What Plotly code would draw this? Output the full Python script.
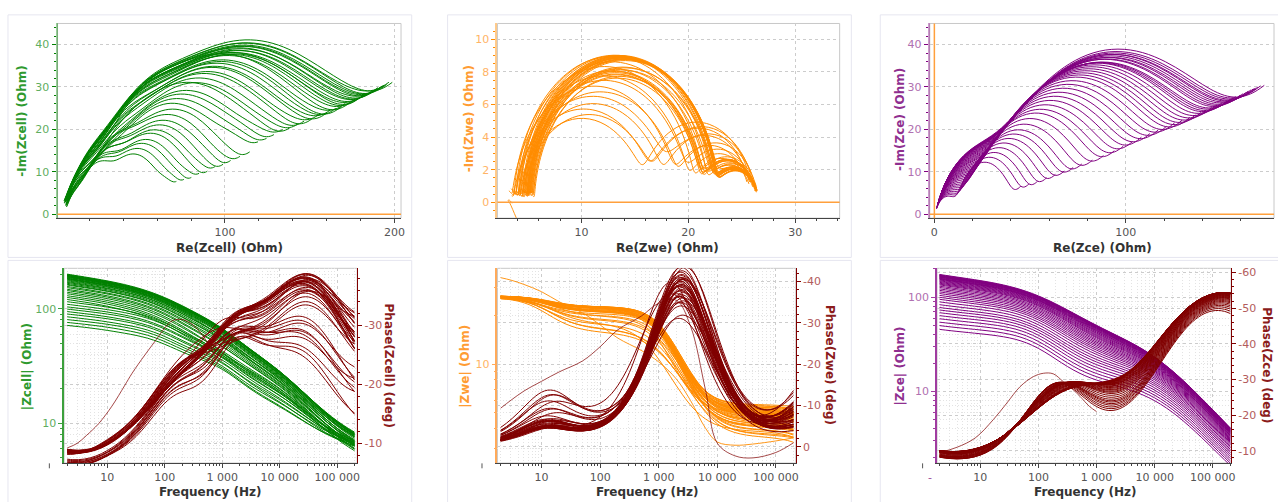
import numpy as np
import plotly.graph_objects as go

W, H = 1278, 502
FONT = "DejaVu Sans"

# Sweep frequencies (10 points per decade, 2 Hz .. 200 kHz)
freq_hz = [2.0, 2.512, 3.162, 3.981, 5.012, 6.310, 7.943,
           10.0, 12.59, 15.85, 19.95, 25.12, 31.62, 39.81, 50.12, 63.10, 79.43,
           100.0, 125.9, 158.5, 199.5, 251.2, 316.2, 398.1, 501.2, 631.0, 794.3,
           1000.0, 1259.0, 1585.0, 1995.0, 2512.0, 3162.0, 3981.0, 5012.0, 6310.0, 7943.0,
           10000.0, 12589.0, 15849.0, 19953.0, 25119.0, 31623.0, 39811.0, 50119.0, 63096.0, 79433.0,
           100000.0, 125893.0, 158489.0, 199526.0]

# Working electrode fit per sweep: series R (incl. HF arc), HF arc, main arc, low-frequency arc
we_rs = [5.5, 5.2, 5.6, 5.0, 5.4, 5.1, 5.5, 4.9, 5.3, 5.0,
         4.0, 4.4, 3.6, 4.2, 3.8, 4.3, 3.5, 4.1, 3.9, 4.5, 3.7, 4.2,
         4.6, 3.9, 5.0, 4.3, 4.8, 4.1, 5.2, 4.5, 4.9, 5.3, 4.7, 5.1, 4.8, 5.4, 4.9, 5.2, 4.7, 5.0]
we_rhf = [1.0, 1.6, 0.7, 1.3, 1.9, 0.9, 1.5, 1.1, 1.8, 0.8, 1.0, 1.6, 0.7, 1.3, 1.9, 0.9, 1.5, 1.1, 1.8, 0.8,
          1.0, 1.6, 0.7, 1.3, 1.9, 0.9, 1.5, 1.1, 1.8, 0.8, 1.0, 1.6, 0.7, 1.3, 1.9, 0.9, 1.5, 1.1, 1.8, 0.8]
we_fhf = 4.0e5
we_rm = [15.6, 16.0, 15.8, 16.3, 16.6, 16.1, 16.9, 16.4, 17.0, 16.7,
         11.8, 12.3, 12.9, 13.5, 14.1, 14.7, 15.2, 15.7, 16.1, 16.5, 16.8, 17.1,
         17.9, 17.8, 17.6, 17.9, 17.7, 17.9, 17.5, 17.8, 17.6, 17.4, 17.8, 17.5, 17.7, 17.3, 17.6, 17.4, 17.8, 17.6]
we_fm = [1200, 1150, 1100, 1250, 1050, 1200, 1100, 1150, 1000, 1100, 1200, 1050, 1150, 1100, 700, 1200, 1100, 1050, 1150, 1100,
         1200, 1050, 1100, 1150, 750, 1100, 1200, 1050, 1150, 1100, 1100, 1200, 1050, 1150, 1100, 1200, 1100, 1050, 1150, 1100]
we_nm = [0.98, 0.98, 0.98, 0.98, 0.98, 0.98, 0.98, 0.98, 0.98, 0.98,
         0.90, 0.90, 0.91, 0.92, 0.93, 0.94, 0.95, 0.96, 0.97, 0.98, 0.99, 1.0,
         1.0, 1.0, 1.0, 1.0, 1.0, 1.0, 1.0, 1.0, 1.0, 1.0, 1.0, 1.0, 1.0, 1.0, 1.0, 1.0, 1.0, 1.0]
we_rl = [5.4, 5.3, 5.1, 5.2, 4.6, 5.3, 4.2, 5.2, 4.3, 4.8,
         10.3, 9.6, 9.4, 8.7, 8.1, 7.5, 7.1, 6.5, 6.1, 5.6, 5.5, 5.1,
         4.0, 4.6, 3.9, 4.3, 4.0, 4.4, 3.9, 4.2, 4.1, 3.9, 4.0, 3.9, 4.1, 3.8, 4.0, 3.9, 4.1, 4.0]
we_fl = [10, 11, 12, 10, 13, 11, 12, 14, 10, 12, 10, 11, 12, 10, 13, 11, 12, 14, 10, 12,
         10, 11, 12, 10, 13, 11, 12, 14, 10, 12, 10, 11, 12, 10, 13, 11, 12, 14, 10, 12]
we_nl = 0.95

# Counter electrode fit per sweep: series R, HF arc, main arc, low-frequency CPE tail
ce_r0 = 0.35
ce_r1 = [11.0, 11.8, 12.6, 13.4, 14.2, 15.0, 15.8, 16.5, 17.2, 17.9, 18.5, 19.1, 19.7, 20.3, 20.9, 21.4, 21.9, 22.4, 22.9, 23.4,
         23.8, 24.2, 24.6, 25.0, 25.3, 25.6, 25.9, 26.2, 26.5, 26.7, 26.9, 27.1, 27.3, 27.5, 27.6, 27.7, 27.8, 27.9, 28.0, 28.0]
ce_f1 = [12000, 11900, 11800, 11700, 11600, 11500, 11400, 11300, 11200, 11100, 11000, 10900, 10800, 10700, 10600, 10500, 10400, 10300, 10200, 10100,
         10000, 9900, 9800, 9700, 9600, 9500, 9400, 9300, 9200, 9100, 9000, 9000, 9000, 9000, 9000, 9000, 9000, 9000, 9000, 9000]
ce_n1 = 0.74
ce_r2 = [26, 29, 32, 35, 38, 41, 44, 47, 51, 55, 59, 62, 65, 68, 71, 74, 77, 80, 83, 86,
         88, 90, 92, 94, 96, 98, 100, 101, 102, 103, 105, 106, 107, 108, 109, 110, 111, 112, 113, 115]
ce_f2 = [100, 100, 100, 101, 101, 102, 102, 103, 103, 104, 104, 105, 105, 106, 106, 107, 107, 108, 108, 109,
         109, 110, 110, 111, 111, 112, 112, 113, 113, 114, 114, 115, 115, 115, 115, 115, 115, 115, 115, 115]
ce_n2 = [0.88, 0.87, 0.86, 0.85, 0.84, 0.83, 0.82, 0.81, 0.80, 0.79, 0.78, 0.77, 0.765, 0.76, 0.755, 0.75, 0.745, 0.74, 0.735, 0.73,
         0.725, 0.72, 0.715, 0.71, 0.705, 0.70, 0.695, 0.69, 0.685, 0.68, 0.68, 0.675, 0.675, 0.67, 0.67, 0.67, 0.665, 0.665, 0.665, 0.665]
ce_q = [13, 14, 15, 16.5, 18, 19.5, 21, 22.5, 24, 26, 28, 30, 32, 34, 35.5, 37, 38.5, 40, 41, 42,
        43, 44, 45, 46, 47, 48, 48.5, 49, 49.5, 50, 50.5, 51, 51.5, 52, 52.5, 53, 53, 53.5, 54, 54]
ce_nq = 0.4

# First sweep (recorded on its own)
out_we_f = [2, 3, 5, 10, 20, 50, 100, 200, 500, 1000, 2000, 3500, 6300, 10000, 20000, 40000, 100000, 200000]
out_we_re = [34.0, 32.6, 30.4, 27.1, 23.2, 19.5, 16.0, 12.8, 10.4, 8.5, 6.6, 5.2, 3.9, 3.3, 3.15, 3.2, 3.35, 3.5]
out_we_im = [5.6, 6.5, 7.3, 7.7, 7.6, 7.4, 7.2, 6.9, 6.4, 5.9, 4.7, 2.9, 0.95, 0.05, -0.12, -0.15, -0.08, 0.06]
out_cell_f = [2, 3, 4.3, 7, 12, 20, 27, 45, 71, 100, 135, 200, 280, 400, 520, 780, 1000]
out_cell_phase = [-9.2, -10.0, -11.3, -13.3, -16.3, -19.8, -21.9, -25.0, -27.6, -29.6, -30.8, -31.0, -30.4, -29.0, -27.5, -24.7, -24.0]
out_ce_f = [2, 4, 8.2, 16.9, 28.7, 48.5, 81.8, 122, 180, 268, 397, 518, 750, 1000]
out_ce_phase = [-9.5, -11.0, -13.6, -18.8, -23.4, -28.0, -30.8, -31.75, -31.6, -29.4, -27.1, -25.3, -22.5, -21.0]

GREEN, ORANGE, PURPLE, MAROON = "rgb(0,128,0)", "rgb(255,140,0)", "rgb(128,0,128)", "rgb(128,0,0)"

f = np.array(freq_hz)


def zarc(r, fc, n):
    return r / (1.0 + (1j * f / fc) ** n)


z_we, z_ce = [], []
for k in range(len(we_rm)):
    z_we.append((we_rs[k] - we_rhf[k]) + zarc(we_rhf[k], we_fhf, 1.0) + zarc(we_rm[k], we_fm[k], we_nm[k])
                + zarc(we_rl[k], we_fl[k], we_nl))
    z_ce.append(ce_r0 + zarc(ce_r1[k], ce_f1[k], ce_n1) + zarc(ce_r2[k], ce_f2[k], ce_n2[k])
                + ce_q[k] * (1j * f) ** -ce_nq)
z_cell = [a + b for a, b in zip(z_we, z_ce)]


def family(series, fx, fy):
    xs, ys = [], []
    for z in series:
        xs += list(fx(z)) + [None]
        ys += list(fy(z)) + [None]
    return xs, ys


def line(color, width=1.0):
    return dict(color=color, width=width, shape="spline", smoothing=1.0)


fig = go.Figure()

# Nyquist panels
for series, color, xa, ya in [(z_cell, GREEN, "x", "y"), (z_we, ORANGE, "x2", "y2"), (z_ce, PURPLE, "x3", "y3")]:
    xs, ys = family(series, lambda z: z.real, lambda z: -z.imag)
    fig.add_trace(go.Scatter(x=xs, y=ys, mode="lines", line=line(color), xaxis=xa, yaxis=ya,
                             hoverinfo="skip", showlegend=False))
fig.add_trace(go.Scatter(x=out_we_re, y=[-v for v in out_we_im], mode="lines", line=line(ORANGE, 0.9),
                         xaxis="x2", yaxis="y2", hoverinfo="skip", showlegend=False))

# Bode panels: magnitude (left axis) then phase (right axis)
bode = [(z_cell, GREEN, "x4", "y4", "y5"), (z_we, ORANGE, "x5", "y6", "y7"), (z_ce, PURPLE, "x6", "y8", "y9")]
for series, color, xa, ym, yp in bode:
    xs, ys = family(series, lambda z: f, np.abs)
    fig.add_trace(go.Scatter(x=xs, y=ys, mode="lines", line=line(color), xaxis=xa, yaxis=ym,
                             hoverinfo="skip", showlegend=False))
out_we = np.array(out_we_re) - 1j * np.array(out_we_im)
fig.add_trace(go.Scatter(x=out_we_f, y=np.abs(out_we), mode="lines", line=line(ORANGE, 0.9),
                         xaxis="x5", yaxis="y6", hoverinfo="skip", showlegend=False))
for series, color, xa, ym, yp in bode:
    xs, ys = family(series, lambda z: f, lambda z: np.degrees(np.angle(z)))
    fig.add_trace(go.Scatter(x=xs, y=ys, mode="lines", line=line(MAROON), xaxis=xa, yaxis=yp,
                             hoverinfo="skip", showlegend=False))
THIN = "rgba(128,0,0,0.8)"
fig.add_trace(go.Scatter(x=out_cell_f, y=out_cell_phase, mode="lines", line=line(THIN, 0.9),
                         xaxis="x4", yaxis="y5", hoverinfo="skip", showlegend=False))
fig.add_trace(go.Scatter(x=out_we_f, y=np.degrees(np.angle(out_we)), mode="lines", line=line(THIN, 0.9),
                         xaxis="x5", yaxis="y7", hoverinfo="skip", showlegend=False))
fig.add_trace(go.Scatter(x=out_ce_f, y=out_ce_phase, mode="lines", line=line(THIN, 0.9),
                         xaxis="x6", yaxis="y9", hoverinfo="skip", showlegend=False))


def dx(a, b):
    return [a / W, b / W]


def dy(top, bottom):
    return [1 - bottom / H, 1 - top / H]


GRID = "#cccccc"
GDASH = "3px,3px"
MINOR_GRID = "#e3e3e3"
XTICK = dict(size=11, color="#555555", family=FONT)


def lin_x(dom, rng, dtick, minor, anchor):
    return dict(domain=dom, range=rng, dtick=dtick, tick0=0, anchor=anchor, showline=True, linecolor="#444444",
                linewidth=1, ticks="outside", ticklen=4, tickcolor="#444444", tickfont=XTICK,
                showgrid=True, gridcolor=GRID, griddash=GDASH, zeroline=False,
                minor=dict(dtick=minor, tick0=0, ticks="outside", ticklen=2, tickcolor="#444444", showgrid=False))


def lin_y(dom, rng, dtick, minor, anchor, axcol, tickcol, labcol):
    return dict(domain=dom, range=rng, dtick=dtick, tick0=0, anchor=anchor, showline=True, linecolor=axcol,
                linewidth=2, ticks="outside", ticklen=4, tickcolor=tickcol,
                tickfont=dict(size=11, color=labcol, family=FONT),
                showgrid=True, gridcolor=GRID, griddash=GDASH, zeroline=False,
                minor=dict(dtick=minor, tick0=0, ticks="outside", ticklen=2, tickcolor=tickcol, showgrid=False))


def log_x(dom, rng, anchor):
    return dict(domain=dom, type="log", range=rng, dtick=1, tickformat=",d", anchor=anchor, showline=True,
                linecolor="#444444", ticks="outside", ticklen=4, tickcolor="#444444", tickfont=XTICK,
                showgrid=True, gridcolor=GRID, griddash=GDASH, zeroline=False,
                minor=dict(dtick="D1", ticks="outside", ticklen=2, tickcolor="#444444", showgrid=True,
                           gridcolor=MINOR_GRID, griddash="1px,2px"))


def log_y(dom, rng, anchor, axcol, labcol):
    return dict(domain=dom, type="log", range=rng, dtick=1, anchor=anchor, showline=True, linecolor=axcol,
                linewidth=1.5, ticks="outside", ticklen=4, tickcolor=axcol,
                tickfont=dict(size=11, color=labcol, family=FONT),
                showgrid=True, gridcolor=GRID, griddash=GDASH, zeroline=False,
                minor=dict(dtick="D1", ticks="outside", ticklen=2, tickcolor=axcol, showgrid=True,
                           gridcolor=MINOR_GRID, griddash="1px,2px"))


def phase_y(over, anchor, rng, vals):
    return dict(overlaying=over, anchor=anchor, side="right", range=rng, tickmode="array", tickvals=vals,
                ticktext=["%d" % v if v >= 0 else "-%d" % (-v) for v in vals],
                showline=True, linecolor=MAROON, linewidth=1, ticks="outside", ticklen=4, tickcolor=MAROON,
                tickfont=dict(size=11, color="#b35c5c", family=FONT),
                showgrid=True, gridcolor=GRID, griddash=GDASH, zeroline=False,
                minor=dict(tickmode="linear", tick0=0, dtick=2, ticks="outside", ticklen=2, tickcolor=MAROON))


TOP = dy(21.7, 218.3)
BOT = dy(269, 465.7)

fig.update_layout(
    width=W, height=H, margin=dict(l=0, r=0, t=0, b=0), paper_bgcolor="white", plot_bgcolor="white",
    font=dict(family=FONT, size=11), separators=". ", showlegend=False,
    xaxis=lin_x(dx(57.7, 402.3), [1.2, 203.9], 100, 20, "y"),
    yaxis=lin_y(TOP, [-0.93, 44.97], 10, 2, "x", "rgba(0,128,0,0.4)", GREEN, "#5fae5f"),
    xaxis2=lin_x(dx(499, 842.3), [2.14, 34.16], 10, 2, "y2"),
    yaxis2=lin_y(TOP, [-0.97, 10.97], 2, 0.5, "x2", "rgba(255,140,0,0.45)", ORANGE, "#ffb466"),
    xaxis3=lin_x(dx(932.7, 1278), [-2.4, 177.4], 100, 20, "y3"),
    yaxis3=lin_y(TOP, [-0.93, 44.97], 10, 2, "x3", "rgba(128,0,128,0.4)", PURPLE, "#b070b0"),
    xaxis4=log_x(dx(64.3, 358.3), [0.247, 5.347], "y4"),
    yaxis4=log_y(BOT, [0.654, 2.354], "x4", "rgb(60,160,60)", "#5fae5f"),
    yaxis5=phase_y("y4", "x4", [-6.64, -39.7], [-10, -20, -30]),
    xaxis5=log_x(dx(499, 798.3), [0.246, 5.34], "y6"),
    yaxis6=log_y(BOT, [0.388, 1.595], "x5", "rgb(255,170,90)", "#ffb466"),
    yaxis7=phase_y("y6", "x5", [3.93, -43.2], [0, -10, -20, -30, -40]),
    xaxis6=log_x(dx(940, 1235), [0.258, 5.314], "y8"),
    yaxis8=log_y(BOT, [0.238, 2.308], "x6", "rgb(160,60,160)", "#b070b0"),
    yaxis9=phase_y("y8", "x6", [-6.56, -61.2], [-10, -20, -30, -40, -50, -60]),
)

shapes = []
# panel outlines
for x0, x1, y0, y1 in [(8, 413, 13, 258), (449, 854, 13, 258), (883, 1290, 13, 258),
                       (8, 413, 261, 510), (449, 854, 261, 510), (883, 1290, 261, 510)]:
    shapes.append(dict(type="rect", xref="paper", yref="paper", x0=x0 / W, x1=x1 / W, y0=1 - y1 / H, y1=1 - y0 / H,
                       line=dict(color="#e6e6f0", width=1), layer="below"))
# plot frames
for xa, ya in [("x", "y"), ("x2", "y2"), ("x3", "y3"), ("x4", "y4"), ("x5", "y6"), ("x6", "y8")]:
    shapes.append(dict(type="rect", xref=xa + " domain", yref=ya + " domain", x0=0, x1=1, y0=0, y1=1,
                       line=dict(color="#c8c8c8", width=1), layer="below"))
# zero lines in the Nyquist panels
for xa, ya in [("x", "y"), ("x2", "y2"), ("x3", "y3")]:
    shapes.append(dict(type="line", xref=xa + " domain", yref=ya, x0=0, x1=1, y0=0, y1=0,
                       line=dict(color="rgb(255,160,60)", width=1.5)))
shapes.append(dict(type="line", xref="x3", yref="y3 domain", x0=0, x1=0, y0=0, y1=1,
                   line=dict(color="rgb(255,160,60)", width=1.5)))
# stray tick marks below the magnitude axes
for px in [49.5, 483.5, 925.5]:
    shapes.append(dict(type="line", xref="paper", yref="paper", x0=px / W, x1=px / W, y0=1 - 471 / H, y1=1 - 466 / H,
                       line=dict(color="#555555", width=1)))
fig.update_layout(shapes=shapes)

ann = []


def title(text, px, py, color, angle=0, size=12):
    ann.append(dict(text="<b>%s</b>" % text, x=px / W, y=1 - py / H, xref="paper", yref="paper",
                    xanchor="center", yanchor="middle", showarrow=False, textangle=angle,
                    font=dict(family=FONT, size=size, color=color)))


DARK = "#333333"
title("Re(Zcell) (Ohm)", 230, 248, DARK)
title("Re(Zwe) (Ohm)", 670, 248, DARK)
title("Re(Zce) (Ohm)", 1106, 248, DARK)
title("-Im(Zcell) (Ohm)", 22, 120, "#2f9a2f", -90)
title("-Im(Zwe) (Ohm)", 470, 118, "#ff9c33", -90)
title("-Im(Zce) (Ohm)", 903, 119, "#8f2f8f", -90)
for cx in [211, 649, 1088]:
    title("Frequency (Hz)", cx, 495, DARK)
title("|Zcell| (Ohm)", 27, 368, "#2f9a2f", -90)
title("|Zwe| (Ohm)", 467, 368, "#ff9c33", -90)
title("|Zce| (Ohm)", 903, 368, "#8f2f8f", -90)
title("Phase(Zcell) (deg)", 390, 367, "#8b1c1c", 90)
title("Phase(Zwe) (deg)", 832, 367, "#8b1c1c", 90)
title("Phase(Zce) (deg)", 1271, 367, "#8b1c1c", 90)
ann.append(dict(text="-", x=937 / W, y=1 - 489 / H, xref="paper", yref="paper", showarrow=False,
                font=dict(family=FONT, size=11, color="#9a4a9a")))
fig.update_layout(annotations=ann)

fig.write_html("out.html")
